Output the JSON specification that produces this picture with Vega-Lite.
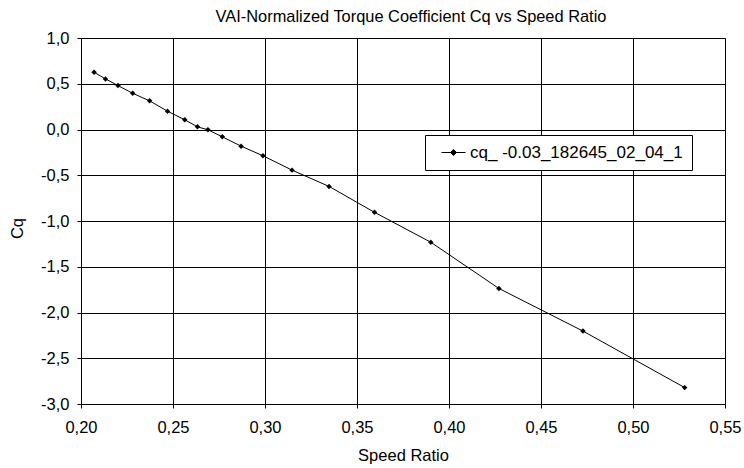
{
  "$schema": "https://vega.github.io/schema/vega-lite/v6.json",
  "width": 644,
  "height": 366,
  "autosize": "none",
  "padding": {"left": 81, "top": 38, "right": 19, "bottom": 64},
  "background": "white",
  "title": {
    "text": "VAI-Normalized Torque Coefficient Cq vs Speed Ratio",
    "font": "Liberation Sans",
    "fontSize": 16.4,
    "fontWeight": "normal",
    "color": "black",
    "baseline": "middle",
    "offset": -3,
    "dx": 8
  },
  "data": {
    "values": [
      {"sr": 0.2071, "cq": 0.625, "series": "cq_ -0.03_182645_02_04_1"},
      {"sr": 0.2133, "cq": 0.553, "series": "cq_ -0.03_182645_02_04_1"},
      {"sr": 0.2201, "cq": 0.480, "series": "cq_ -0.03_182645_02_04_1"},
      {"sr": 0.2281, "cq": 0.396, "series": "cq_ -0.03_182645_02_04_1"},
      {"sr": 0.2373, "cq": 0.313, "series": "cq_ -0.03_182645_02_04_1"},
      {"sr": 0.2470, "cq": 0.200, "series": "cq_ -0.03_182645_02_04_1"},
      {"sr": 0.2564, "cq": 0.106, "series": "cq_ -0.03_182645_02_04_1"},
      {"sr": 0.2633, "cq": 0.029, "series": "cq_ -0.03_182645_02_04_1"},
      {"sr": 0.2690, "cq": -0.003, "series": "cq_ -0.03_182645_02_04_1"},
      {"sr": 0.2768, "cq": -0.080, "series": "cq_ -0.03_182645_02_04_1"},
      {"sr": 0.2870, "cq": -0.182, "series": "cq_ -0.03_182645_02_04_1"},
      {"sr": 0.2989, "cq": -0.287, "series": "cq_ -0.03_182645_02_04_1"},
      {"sr": 0.3147, "cq": -0.444, "series": "cq_ -0.03_182645_02_04_1"},
      {"sr": 0.3348, "cq": -0.622, "series": "cq_ -0.03_182645_02_04_1"},
      {"sr": 0.3595, "cq": -0.905, "series": "cq_ -0.03_182645_02_04_1"},
      {"sr": 0.3901, "cq": -1.232, "series": "cq_ -0.03_182645_02_04_1"},
      {"sr": 0.4271, "cq": -1.737, "series": "cq_ -0.03_182645_02_04_1"},
      {"sr": 0.4728, "cq": -2.203, "series": "cq_ -0.03_182645_02_04_1"},
      {"sr": 0.5281, "cq": -2.821, "series": "cq_ -0.03_182645_02_04_1"}
    ]
  },
  "encoding": {
    "x": {
      "field": "sr",
      "type": "quantitative",
      "scale": {"domain": [0.2, 0.55], "nice": false, "zero": false},
      "axis": {
        "title": "Speed Ratio",
        "values": [0.2, 0.25, 0.3, 0.35, 0.4, 0.45, 0.5, 0.55],
        "labelExpr": "replace(format(datum.value, '.2f'), '.', ',')",
        "labelPadding": 11,
        "titleY": 51,
        "titleBaseline": "middle"
      }
    },
    "y": {
      "field": "cq",
      "type": "quantitative",
      "scale": {"domain": [-3, 1], "nice": false, "zero": false},
      "axis": {
        "title": "Cq",
        "values": [-3, -2.5, -2, -1.5, -1, -0.5, 0, 0.5, 1],
        "labelExpr": "(datum.value < 0 ? '-' : '') + replace(format(abs(datum.value), '.1f'), '.', ',')",
        "labelPadding": 8,
        "titleX": -64,
        "titleY": 190,
        "titleAngle": 270,
        "titleAlign": "center",
        "titleBaseline": "middle"
      }
    },
    "color": {
      "field": "series",
      "type": "nominal",
      "scale": {"range": ["black"]},
      "legend": {
        "title": null,
        "orient": "none",
        "legendX": 344,
        "legendY": 97,
        "strokeColor": "black",
        "fillColor": "white",
        "padding": 9,
        "symbolType": "M-2,0L2,0M0,-0.5L0.5,0L0,0.5L-0.5,0Z",
        "symbolSize": 144,
        "symbolStrokeWidth": 1,
        "symbolOffset": 11,
        "labelOffset": 8,
        "labelLimit": 400,
        "labelFont": "Liberation Sans",
        "labelFontSize": 17,
        "labelColor": "black",
        "encode": {
          "symbols": {
            "update": {
              "fill": {"value": "black"},
              "stroke": {"value": "black"},
              "opacity": {"value": 1},
              "strokeWidth": {"value": 1}
            }
          }
        }
      }
    }
  },
  "layer": [
    {"mark": {"type": "line", "strokeWidth": 1, "color": "black"}},
    {"mark": {"type": "point", "shape": "diamond", "filled": true, "size": 30, "opacity": 1, "color": "black"}}
  ],
  "config": {
    "view": {"stroke": "#808080", "strokeWidth": 1},
    "axis": {
      "labelFont": "Liberation Sans",
      "labelFontSize": 16.5,
      "labelColor": "black",
      "titleFont": "Liberation Sans",
      "titleFontSize": 16.5,
      "titleFontWeight": "normal",
      "titleColor": "black",
      "gridColor": "black",
      "gridOpacity": 1,
      "gridWidth": 1,
      "domainColor": "black",
      "tickColor": "black",
      "tickSize": 4,
      "labelFlush": false,
      "labelOverlap": false
    }
  }
}
